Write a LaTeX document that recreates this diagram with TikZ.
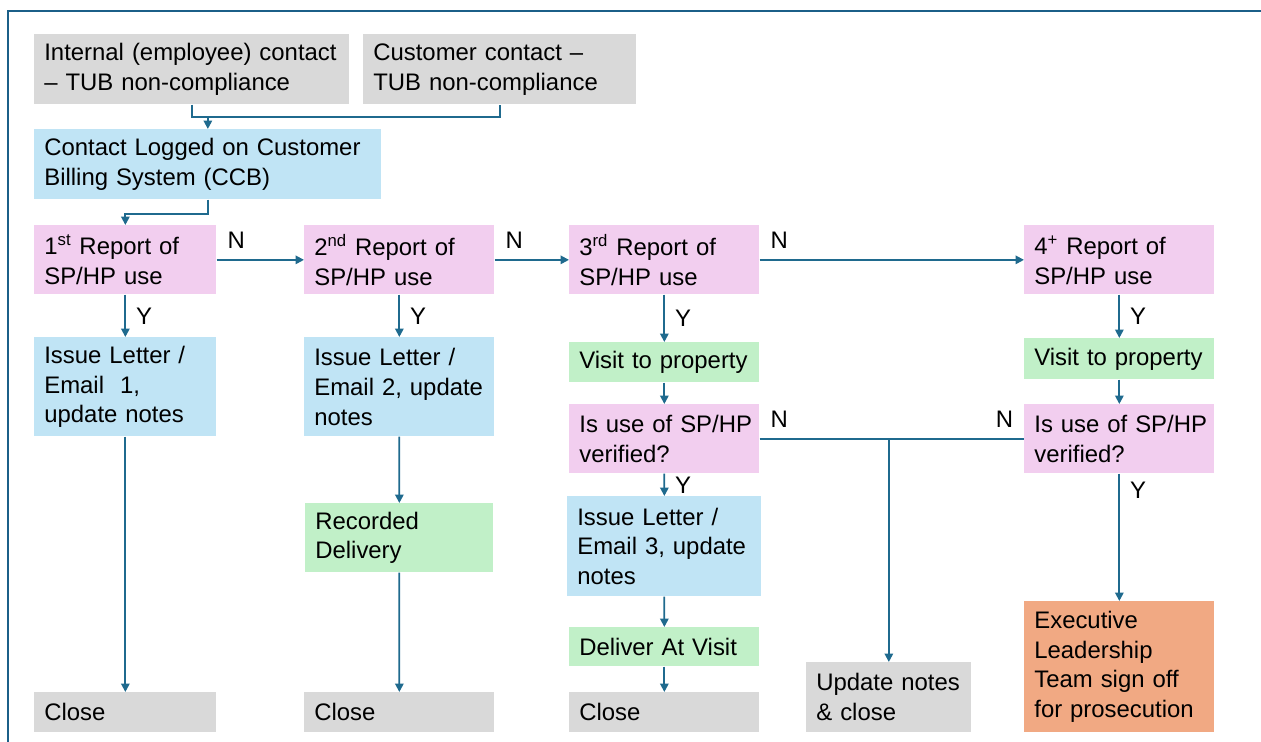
\documentclass[tikz,border=0pt]{standalone}
\usepackage{fontspec}
\setmainfont{Liberation Sans}
\usetikzlibrary{arrows.meta}
\definecolor{boxgrey}{HTML}{D9D9D9}
\definecolor{boxblue}{HTML}{C0E4F5}
\definecolor{boxpink}{HTML}{F2CEEF}
\definecolor{boxgreen}{HTML}{C1F0C8}
\definecolor{boxorange}{HTML}{F1A983}
\definecolor{linkblue}{HTML}{1F6A8E}
\definecolor{frameblue}{HTML}{1B5F88}
\begin{document}
\begin{tikzpicture}[font=\fontsize{13.6}{17}\selectfont,
  box/.style={anchor=north west, inner xsep=0.2cm, inner ysep=0pt, align=left},
  link/.style={draw=linkblue, line width=1pt},
  flow/.style={link, -{Triangle[length=4.8pt,width=4.8pt]}},
  lbl/.style={inner sep=0.2cm}]
\useasboundingbox (0,0) rectangle (25.22,-14.84);
\draw[frameblue, line width=1.2pt] (0.16,-14.9) -- (0.16,-0.22) -- (25.3,-0.22);

% sources
\node[box, fill=boxgrey, text width=5.9cm, minimum height=1.4cm] (int) at (0.68,-0.68) {Internal (employee) contact\\– TUB non-compliance};
\node[box, fill=boxgrey, text width=5.06cm, minimum height=1.4cm] (cust) at (7.26,-0.68) {Customer contact –\\TUB non-compliance};
\node[box, fill=boxblue, text width=6.54cm, minimum height=1.4cm] (ccb) at (0.68,-2.58) {Contact Logged on Customer\\Billing System (CCB)};

% reports
\node[box, fill=boxpink, text width=3.24cm, minimum height=1.38cm] (r1) at (0.68,-4.5) {1\textsuperscript{st} Report of\\SP/HP use};
\node[box, fill=boxpink, text width=3.4cm, minimum height=1.38cm] (r2) at (6.08,-4.5) {2\textsuperscript{nd} Report of\\SP/HP use};
\node[box, fill=boxpink, text width=3.4cm, minimum height=1.38cm] (r3) at (11.38,-4.5) {3\textsuperscript{rd} Report of\\SP/HP use};
\node[box, fill=boxpink, text width=3.4cm, minimum height=1.38cm] (r4) at (20.48,-4.5) {4\textsuperscript{+} Report of\\SP/HP use};

% first and second report
\node[box, fill=boxblue, text width=3.24cm, minimum height=1.98cm] (iss1) at (0.68,-6.74) {Issue Letter /\\Email\ \ 1,\\update notes};
\node[box, fill=boxblue, text width=3.4cm, minimum height=1.98cm] (iss2) at (6.08,-6.74) {Issue Letter /\\Email 2, update\\notes};
\node[box, fill=boxgreen, text width=3.36cm, minimum height=1.38cm] (rec) at (6.1,-10.06) {Recorded\\Delivery};
\node[box, fill=boxgrey, text width=3.24cm, minimum height=0.8cm] (close1) at (0.68,-13.84) {Close};
\node[box, fill=boxgrey, text width=3.4cm, minimum height=0.8cm] (close2) at (6.08,-13.84) {Close};

% third report
\node[box, fill=boxgreen, text width=3.4cm, minimum height=0.8cm] (visit3) at (11.38,-6.84) {Visit to property};
\node[box, fill=boxpink, text width=3.4cm, minimum height=1.38cm] (ver3) at (11.38,-8.08) {Is~use~of~SP/HP\\verified?};
\node[box, fill=boxblue, text width=3.48cm, minimum height=2cm] (iss3) at (11.34,-9.92) {Issue Letter /\\Email 3, update\\notes};
\node[box, fill=boxgreen, text width=3.4cm, minimum height=0.78cm] (dlv) at (11.38,-12.54) {Deliver At Visit};
\node[box, fill=boxgrey, text width=3.4cm, minimum height=0.8cm] (close3) at (11.38,-13.84) {Close};
\node[box, fill=boxgrey, text width=2.9cm, minimum height=1.4cm] (upd) at (16.12,-13.24) {Update~notes\\\& close};

% fourth report
\node[box, fill=boxgreen, text width=3.4cm, minimum height=0.82cm] (visit4) at (20.48,-6.76) {Visit to property};
\node[box, fill=boxpink, text width=3.4cm, minimum height=1.38cm] (ver4) at (20.48,-8.08) {Is~use~of~SP/HP\\verified?};
\node[box, fill=boxorange, text width=3.4cm, minimum height=2.62cm] (exec) at (20.48,-12.02) {Executive\\Leadership\\Team sign off\\for~prosecution};

% connectors
\coordinate (mrg) at (ccb.north |- 0,-2.34);
\draw[link] (int.south) |- (mrg) -| (cust.south);
\draw[flow] (mrg) -- (ccb.north);
\draw[flow] (ccb.south) -- ++(0,-0.28) -| (r1.north);

\draw[flow] (r1) -- node[lbl, pos=0, above right] {N} (r2);
\draw[flow] (r2) -- node[lbl, pos=0, above right] {N} (r3);
\draw[flow] (r3) -- node[lbl, pos=0, above right] {N} (r4);

\draw[flow] (r1) -- node[lbl, right] {Y} (iss1);
\draw[flow] (iss1) -- (close1);
\draw[flow] (r2) -- node[lbl, right] {Y} (iss2);
\draw[flow] (iss2) -- (rec);
\draw[flow] (rec) -- (close2);

\draw[flow] (r3) -- node[lbl, right] {Y} (visit3);
\draw[flow] (visit3) -- (ver3);
\draw[flow] (ver3) -- node[lbl, right] {Y} (iss3);
\draw[flow] (iss3) -- (dlv);
\draw[flow] (dlv) -- (close3);

\draw[link] (ver3) -- node[lbl, pos=0, above right] {N} node[lbl, pos=1, above left] {N} (ver4);
\coordinate (split) at (upd.north |- ver3.east);
\draw[flow] (split) -- (upd.north);

\draw[flow] (r4) -- node[lbl, right] {Y} (visit4);
\draw[flow] (visit4) -- (ver4);
\draw[flow] (ver4) -- node[lbl, pos=0.13, right] {Y} (exec);
\end{tikzpicture}
\end{document}
